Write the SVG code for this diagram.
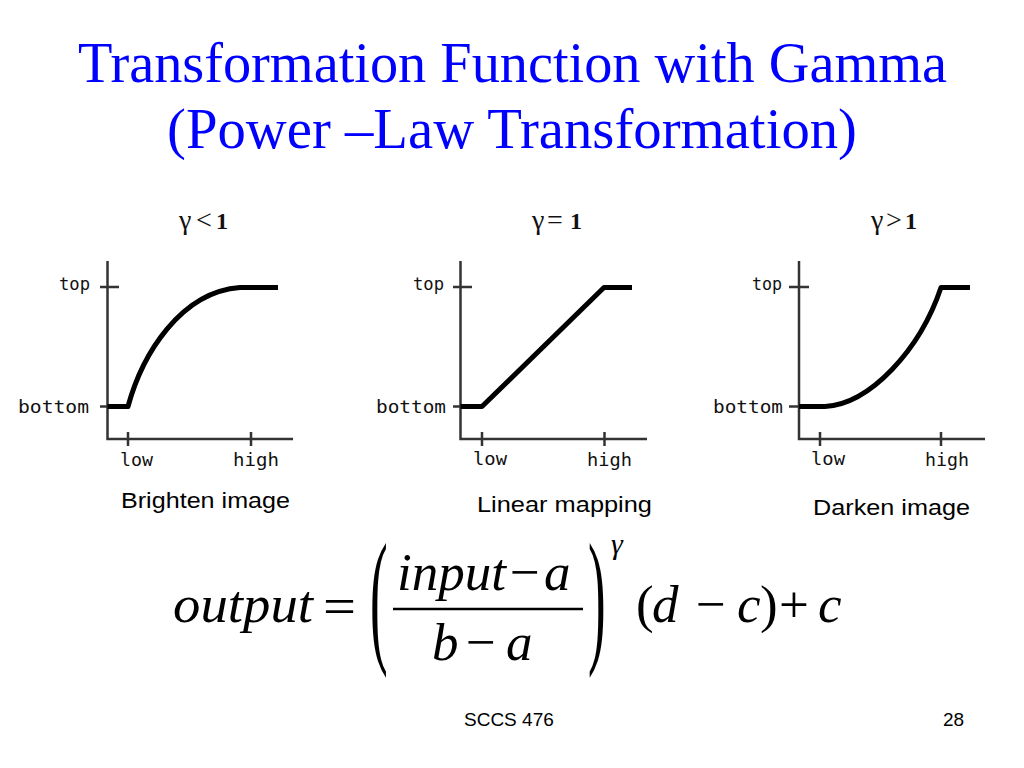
<svg xmlns="http://www.w3.org/2000/svg" width="1024" height="768" viewBox="0 0 1024 768">
<style>
.title{font-family:"Liberation Serif","Times New Roman",serif;font-size:56px;fill:#0000ff}
.axis{stroke:#333;stroke-width:2.5;fill:none}
.curve{stroke:#000;stroke-width:5;fill:none;stroke-linejoin:round}
.lbl{font-family:"DejaVu Sans Mono","Liberation Mono",monospace;font-size:18px;fill:#111}
.gam{font-family:"Liberation Serif","Times New Roman",serif;font-size:28px;fill:#111}
.one{font-weight:bold;font-size:24px}
.cap{font-family:"Liberation Sans",Arial,sans-serif;font-size:22px;fill:#000}
.eq{font-family:"Liberation Serif","Times New Roman",serif;font-size:53px;fill:#000}
.it{font-style:italic}
.sup{font-size:30px}
.foot{font-family:"Liberation Sans",Arial,sans-serif;font-size:19px;fill:#000}
</style>
<rect width="1024" height="768" fill="#fff"/>
<g id="title">
<text class="title" x="78" y="82" textLength="869" lengthAdjust="spacingAndGlyphs">Transformation Function with Gamma</text>
<text class="title" x="167" y="148" textLength="690" lengthAdjust="spacingAndGlyphs">(Power –Law Transformation)</text>
</g>
<g id="chart-gamma-lt-1">
<text class="gam" y="229"><tspan x="179">γ</tspan><tspan x="196">&lt;</tspan><tspan class="one" x="216">1</tspan></text>
<path class="axis" d="M107.5,261 V439 H293 M100,287 H119 M100,406.5 H107.5 M128,432 V446 M251,432 V446"/>
<path class="curve" d="M107.5,406.5 H128 C142,355 180,292 240,287.5 H278"/>
<text class="lbl" x="59" y="290" textLength="31" lengthAdjust="spacingAndGlyphs">top</text>
<text class="lbl" x="18" y="413" textLength="71" lengthAdjust="spacingAndGlyphs">bottom</text>
<text class="lbl" x="120" y="466" textLength="33" lengthAdjust="spacingAndGlyphs">low</text>
<text class="lbl" x="233" y="466" textLength="46" lengthAdjust="spacingAndGlyphs">high</text>
<text class="cap" x="121" y="508" textLength="169" lengthAdjust="spacingAndGlyphs">Brighten image</text>
</g>
<g id="chart-gamma-eq-1">
<text class="gam" y="229"><tspan x="532">γ</tspan><tspan x="547">=</tspan><tspan class="one" x="570">1</tspan></text>
<path class="axis" d="M460.5,261 V439 H647 M453,287 H472 M453,406.5 H460.5 M482,432 V446 M604.5,432 V446"/>
<path class="curve" d="M460.5,406.5 H482 L604,287.5 H632"/>
<text class="lbl" x="413" y="290" textLength="31" lengthAdjust="spacingAndGlyphs">top</text>
<text class="lbl" x="376" y="413" textLength="70" lengthAdjust="spacingAndGlyphs">bottom</text>
<text class="lbl" x="473" y="465" textLength="34" lengthAdjust="spacingAndGlyphs">low</text>
<text class="lbl" x="587" y="466" textLength="45" lengthAdjust="spacingAndGlyphs">high</text>
<text class="cap" x="477" y="512" textLength="175" lengthAdjust="spacingAndGlyphs">Linear mapping</text>
</g>
<g id="chart-gamma-gt-1">
<text class="gam" y="229"><tspan x="871">γ</tspan><tspan x="886">&gt;</tspan><tspan class="one" x="905">1</tspan></text>
<path class="axis" d="M799,261 V439 H985 M789,287 H809 M789,406.5 H799 M820,432 V446 M941,432 V446"/>
<path class="curve" d="M799,406.5 H825 C870,404 920,350 941,287.5 H970"/>
<text class="lbl" x="752" y="290" textLength="30" lengthAdjust="spacingAndGlyphs">top</text>
<text class="lbl" x="713" y="413" textLength="70" lengthAdjust="spacingAndGlyphs">bottom</text>
<text class="lbl" x="811" y="465" textLength="34" lengthAdjust="spacingAndGlyphs">low</text>
<text class="lbl" x="925" y="466" textLength="44" lengthAdjust="spacingAndGlyphs">high</text>
<text class="cap" x="813" y="515" textLength="157" lengthAdjust="spacingAndGlyphs">Darken image</text>
</g>
<g id="equation">
<text class="eq it" x="173" y="622" textLength="140" lengthAdjust="spacingAndGlyphs">output</text>
<text class="eq" x="323" y="624" textLength="33" lengthAdjust="spacingAndGlyphs">=</text>
<text class="eq" transform="translate(370,646) scale(1,2.8)">(</text>
<text class="eq" y="590"><tspan class="it" x="397">input</tspan><tspan x="510">−</tspan><tspan class="it" x="544">a</tspan></text>
<line x1="393" y1="609" x2="583" y2="609" stroke="#000" stroke-width="2.5"/>
<text class="eq" y="660"><tspan class="it" x="432">b</tspan><tspan x="466">−</tspan><tspan class="it" x="506">a</tspan></text>
<text class="eq" transform="translate(588,646) scale(1,2.8)">)</text>
<text class="eq it sup" x="611" y="554">γ</text>
<text class="eq" y="622"><tspan x="636">(</tspan><tspan class="it" x="652">d</tspan><tspan x="696">−</tspan><tspan class="it" x="737">c</tspan><tspan x="760">)</tspan><tspan x="779">+</tspan><tspan class="it" x="818">c</tspan></text>
</g>
<g id="footer">
<text class="foot" x="464" y="726">SCCS 476</text>
<text class="foot" x="943" y="726">28</text>
</g>
</svg>
